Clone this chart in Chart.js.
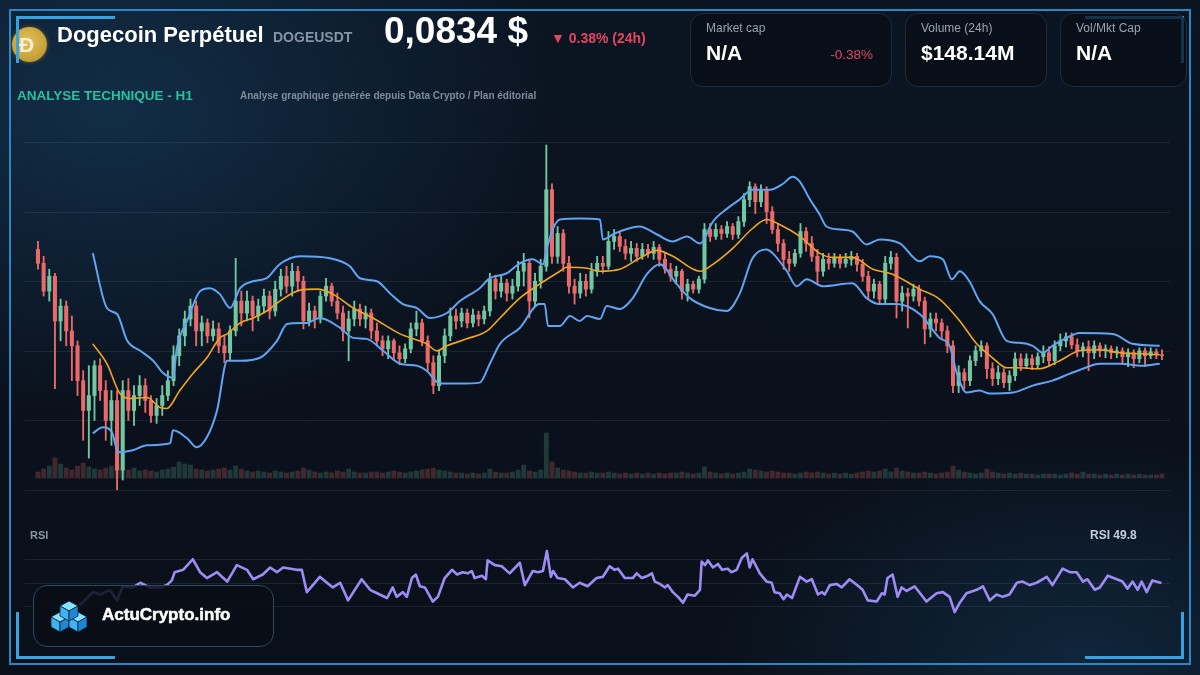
<!DOCTYPE html>
<html><head><meta charset="utf-8">
<script src="https://cdn.jsdelivr.net/npm/chart.js@4.4.1/dist/chart.umd.min.js"></script>
<style>
html,body{margin:0;padding:0;width:1200px;height:675px;overflow:hidden;background:#0b1522;font-family:Arial,"Liberation Sans",Helvetica,sans-serif;}
#stage{position:relative;width:1200px;height:675px;overflow:hidden;
background:
 radial-gradient(ellipse 620px 420px at 110px 110px, rgba(24,66,102,0.55), rgba(24,66,102,0) 72%),
 radial-gradient(ellipse 520px 300px at 1080px 660px, rgba(22,64,100,0.45), rgba(22,64,100,0) 72%),
 linear-gradient(180deg,#0b1522 0%,#0a111c 60%,#0a1019 100%);}
.abs{position:absolute;white-space:nowrap;line-height:1;}
.frame{position:absolute;left:9px;top:9px;width:1178px;height:652px;border:2px solid #2a86c4;}
.br{position:absolute;background:#36a2e2;}
.box{position:absolute;border:1px solid #1f2937;border-radius:13px;background:rgba(9,13,21,0.75);}
.lbl{color:#9aa3b2;font-size:12px;}
.val{color:#ffffff;font-size:21px;font-weight:bold;}
canvas{position:absolute;left:0;}
#logo{position:absolute;left:33px;top:585px;width:239px;height:60px;border:1.5px solid #2b4a5f;border-radius:14px;background:rgba(8,13,21,0.84);}
</style></head><body>
<div id="stage">
 <canvas id="price" width="1200" height="370" style="top:130px"></canvas>
 <canvas id="rsi" width="1200" height="170" style="top:500px"></canvas>

 <div class="frame"></div>

 <div style="position:absolute;left:12px;top:27px;width:35px;height:35px;border-radius:50%;background:radial-gradient(circle at 45% 40%,#e2c25a 0%,#c9a23c 60%,#a98426 100%);box-shadow:0 0 4px rgba(200,160,60,0.5);"></div>
 <div class="abs" style="left:19px;top:34px;font-size:21px;font-weight:bold;color:#f6efd6;">Ð</div>

 <div class="br" style="left:16px;top:16px;width:99px;height:3px"></div>
 <div class="br" style="left:16px;top:16px;width:3px;height:47px"></div>
 <div class="br" style="left:1085px;top:16px;width:99px;height:3px"></div>
 <div class="br" style="left:1181px;top:16px;width:3px;height:47px"></div>
 <div class="br" style="left:16px;top:656px;width:99px;height:3px"></div>
 <div class="br" style="left:16px;top:612px;width:3px;height:47px"></div>
 <div class="br" style="left:1085px;top:656px;width:99px;height:3px"></div>
 <div class="br" style="left:1181px;top:612px;width:3px;height:47px"></div>

 <div class="abs" style="left:57px;top:23.5px;font-size:22px;font-weight:bold;color:#ffffff;">Dogecoin Perpétuel</div>
 <div class="abs" style="left:273px;top:30px;font-size:14px;font-weight:bold;color:#8793a6;">DOGEUSDT</div>
 <div class="abs" style="left:384px;top:12px;font-size:37px;font-weight:bold;color:#ffffff;">0,0834 $</div>
 <div class="abs" style="left:551px;top:30.5px;font-size:14px;font-weight:bold;color:#e2465e;">▼ 0.38% (24h)</div>

 <div class="abs" style="left:17px;top:88.5px;font-size:13.5px;font-weight:bold;color:#22c3a1;">ANALYSE TECHNIQUE - H1</div>
 <div class="abs" style="left:240px;top:90.5px;font-size:10px;font-weight:bold;color:#7f8a9c;">Analyse graphique générée depuis Data Crypto / Plan éditorial</div>

 <div class="box" style="left:690px;top:13px;width:200px;height:72px"></div>
 <div class="box" style="left:905px;top:13px;width:140px;height:72px"></div>
 <div class="box" style="left:1060px;top:13px;width:125px;height:72px"></div>
 <div class="abs lbl" style="left:706px;top:22px;">Market cap</div>
 <div class="abs val" style="left:706px;top:42px;">N/A</div>
 <div class="abs" style="left:800px;width:73px;text-align:right;top:47.5px;font-size:13.5px;color:#e2465e;">-0.38%</div>
 <div class="abs lbl" style="left:921px;top:22px;">Volume (24h)</div>
 <div class="abs val" style="left:921px;top:42px;">$148.14M</div>
 <div class="abs lbl" style="left:1076px;top:22px;">Vol/Mkt Cap</div>
 <div class="abs val" style="left:1076px;top:42px;">N/A</div>

 <div class="abs" style="left:30px;top:529.5px;font-size:11px;font-weight:bold;color:#8a94a6;">RSI</div>
 <div class="abs" style="left:1090px;top:529px;font-size:12px;font-weight:bold;color:#c5cddc;">RSI 49.8</div>

 <div id="logo"></div>
 <svg style="position:absolute;left:51px;top:601px" width="36" height="32" viewBox="0 0 36 32">
  <g stroke="#0a2238" stroke-width="0.8" stroke-linejoin="round">
   <polygon points="9,11 18,16 9,21 0,16" fill="#86e3ff"/>
   <polygon points="0,16 9,21 9,31 0,26" fill="#3fb3ef"/>
   <polygon points="9,21 18,16 18,26 9,31" fill="#1f86d6"/>
   <polygon points="27,11 36,16 27,21 18,16" fill="#86e3ff"/>
   <polygon points="18,16 27,21 27,31 18,26" fill="#3fb3ef"/>
   <polygon points="27,21 36,16 36,26 27,31" fill="#1f86d6"/>
   <polygon points="18,0 27,5 18,10 9,5" fill="#86e3ff"/>
   <polygon points="9,5 18,10 18,20 9,15" fill="#3fb3ef"/>
   <polygon points="18,10 27,5 27,15 18,20" fill="#1f86d6"/>
  </g>
 </svg>
 <div class="abs" style="left:102px;top:605.5px;font-size:17px;font-weight:bold;color:#ffffff;-webkit-text-stroke:0.5px #ffffff;">ActuCrypto.info</div>
</div>

<script>
// ---- Candles (hourly, DOGEUSDT) ----
const openP = [0.08447,0.08433,0.08405,0.08420,0.08375,0.08390,0.08365,0.08350,0.08315,0.08285,
0.08300,0.08330,0.08305,0.08275,0.08295,0.08225,0.08305,0.08285,0.08300,0.08310,
0.08295,0.08280,0.08290,0.08300,0.08315,0.08340,0.08360,0.08377,0.08390,0.08365,
0.08373,0.08360,0.08367,0.08350,0.08343,0.08365,0.08395,0.08383,0.08395,0.08380,
0.08390,0.08400,0.08385,0.08407,0.08420,0.08410,0.08425,0.08415,0.08375,0.08385,
0.08377,0.08400,0.08410,0.08395,0.08383,0.08365,0.08377,0.08387,0.08377,0.08383,
0.08365,0.08355,0.08347,0.08355,0.08343,0.08337,0.08347,0.08367,0.08373,0.08355,
0.08333,0.08310,0.08340,0.08360,0.08380,0.08375,0.08383,0.08373,0.08381,0.08377,
0.08385,0.08417,0.08405,0.08413,0.08403,0.08410,0.08425,0.08433,0.08395,0.08415,
0.08430,0.08507,0.08440,0.08463,0.08433,0.08410,0.08403,0.08415,0.08407,0.08425,
0.08433,0.08430,0.08455,0.08460,0.08450,0.08443,0.08448,0.08440,0.08447,0.08443,
0.08449,0.08437,0.08427,0.08420,0.08425,0.08405,0.08412,0.08407,0.08417,0.08467,
0.08460,0.08467,0.08463,0.08470,0.08462,0.08475,0.08497,0.08510,0.08495,0.08507,
0.08485,0.08467,0.08453,0.08437,0.08433,0.08443,0.08465,0.08453,0.08440,0.08425,
0.08437,0.08433,0.08439,0.08433,0.08437,0.08440,0.08432,0.08420,0.08405,0.08412,
0.08397,0.08433,0.08439,0.08395,0.08403,0.08400,0.08407,0.08395,0.08367,0.08377,
0.08373,0.08365,0.08350,0.08310,0.08323,0.08315,0.08335,0.08345,0.08350,0.08327,
0.08317,0.08323,0.08313,0.08320,0.08337,0.08330,0.08337,0.08331,0.08339,0.08343,
0.08335,0.08350,0.08355,0.08359,0.08351,0.08345,0.08349,0.08343,0.08350,0.08345,
0.08347,0.08343,0.08345,0.08339,0.08343,0.08337,0.08345,0.08340,0.08344,0.08341];
const highP = [0.08455,0.08440,0.08427,0.08423,0.08397,0.08395,0.08380,0.08355,0.08325,0.08330,
0.08335,0.08337,0.08315,0.08305,0.08305,0.08315,0.08317,0.08310,0.08320,0.08317,
0.08300,0.08297,0.08310,0.08325,0.08350,0.08367,0.08385,0.08397,0.08395,0.08380,
0.08377,0.08375,0.08373,0.08360,0.08370,0.08438,0.08405,0.08405,0.08400,0.08397,
0.08407,0.08405,0.08415,0.08427,0.08430,0.08433,0.08430,0.08420,0.08393,0.08390,
0.08405,0.08418,0.08413,0.08403,0.08390,0.08385,0.08395,0.08392,0.08390,0.08387,
0.08373,0.08360,0.08360,0.08357,0.08350,0.08352,0.08373,0.08385,0.08377,0.08360,
0.08340,0.08345,0.08367,0.08388,0.08387,0.08388,0.08387,0.08387,0.08385,0.08390,
0.08423,0.08421,0.08420,0.08417,0.08417,0.08435,0.08443,0.08437,0.08423,0.08437,
0.08552,0.08513,0.08470,0.08467,0.08440,0.08417,0.08423,0.08422,0.08433,0.08440,
0.08440,0.08465,0.08467,0.08465,0.08457,0.08455,0.08453,0.08453,0.08452,0.08455,
0.08452,0.08443,0.08433,0.08430,0.08427,0.08417,0.08415,0.08420,0.08473,0.08473,
0.08473,0.08471,0.08475,0.08473,0.08480,0.08503,0.08515,0.08513,0.08512,0.08510,
0.08490,0.08473,0.08457,0.08445,0.08447,0.08473,0.08469,0.08460,0.08447,0.08443,
0.08443,0.08443,0.08442,0.08443,0.08445,0.08443,0.08437,0.08425,0.08417,0.08415,
0.08440,0.08445,0.08443,0.08410,0.08408,0.08412,0.08411,0.08399,0.08383,0.08383,
0.08377,0.08370,0.08355,0.08330,0.08327,0.08340,0.08350,0.08355,0.08353,0.08333,
0.08330,0.08327,0.08325,0.08343,0.08342,0.08342,0.08341,0.08343,0.08350,0.08349,
0.08355,0.08362,0.08363,0.08363,0.08357,0.08353,0.08355,0.08355,0.08353,0.08351,
0.08350,0.08349,0.08348,0.08347,0.08346,0.08348,0.08348,0.08348,0.08347,0.08346];
const lowP = [0.08427,0.08400,0.08395,0.08307,0.08355,0.08350,0.08315,0.08300,0.08255,0.08237,
0.08275,0.08295,0.08255,0.08250,0.08205,0.08215,0.08275,0.08270,0.08290,0.08283,
0.08273,0.08272,0.08280,0.08295,0.08310,0.08330,0.08350,0.08370,0.08350,0.08350,
0.08353,0.08355,0.08343,0.08333,0.08335,0.08360,0.08370,0.08375,0.08365,0.08375,
0.08383,0.08377,0.08380,0.08400,0.08403,0.08400,0.08405,0.08367,0.08370,0.08368,
0.08373,0.08395,0.08390,0.08377,0.08355,0.08335,0.08370,0.08370,0.08368,0.08357,
0.08350,0.08340,0.08337,0.08335,0.08331,0.08333,0.08343,0.08360,0.08350,0.08325,
0.08302,0.08305,0.08333,0.08355,0.08367,0.08369,0.08368,0.08369,0.08370,0.08372,
0.08380,0.08397,0.08399,0.08395,0.08397,0.08405,0.08410,0.08378,0.08390,0.08408,
0.08425,0.08433,0.08433,0.08425,0.08403,0.08392,0.08398,0.08400,0.08403,0.08420,
0.08423,0.08427,0.08447,0.08445,0.08437,0.08435,0.08435,0.08437,0.08439,0.08437,
0.08430,0.08423,0.08415,0.08413,0.08397,0.08395,0.08403,0.08403,0.08413,0.08455,
0.08457,0.08457,0.08459,0.08457,0.08458,0.08470,0.08490,0.08483,0.08490,0.08473,
0.08463,0.08445,0.08427,0.08425,0.08430,0.08439,0.08445,0.08435,0.08412,0.08420,
0.08427,0.08429,0.08428,0.08429,0.08431,0.08425,0.08415,0.08397,0.08398,0.08392,
0.08393,0.08427,0.08378,0.08385,0.08368,0.08395,0.08390,0.08352,0.08359,0.08365,
0.08357,0.08343,0.08303,0.08303,0.08307,0.08310,0.08330,0.08339,0.08317,0.08310,
0.08311,0.08308,0.08305,0.08315,0.08325,0.08327,0.08326,0.08328,0.08333,0.08330,
0.08331,0.08345,0.08349,0.08347,0.08339,0.08339,0.08325,0.08337,0.08339,0.08338,
0.08337,0.08338,0.08333,0.08329,0.08328,0.08333,0.08329,0.08337,0.08337,0.08336];
const closeP = [0.08433,0.08405,0.08420,0.08375,0.08390,0.08365,0.08350,0.08315,0.08285,0.08300,
0.08330,0.08305,0.08275,0.08295,0.08225,0.08305,0.08285,0.08300,0.08310,0.08295,
0.08280,0.08290,0.08300,0.08315,0.08340,0.08360,0.08377,0.08390,0.08365,0.08373,
0.08360,0.08367,0.08350,0.08343,0.08365,0.08395,0.08383,0.08395,0.08380,0.08390,
0.08400,0.08385,0.08407,0.08420,0.08410,0.08425,0.08415,0.08375,0.08385,0.08377,
0.08400,0.08410,0.08395,0.08383,0.08365,0.08377,0.08387,0.08377,0.08383,0.08365,
0.08355,0.08347,0.08355,0.08343,0.08337,0.08347,0.08367,0.08373,0.08355,0.08333,
0.08310,0.08340,0.08360,0.08380,0.08375,0.08383,0.08373,0.08381,0.08377,0.08385,
0.08417,0.08405,0.08413,0.08403,0.08410,0.08425,0.08433,0.08395,0.08415,0.08430,
0.08507,0.08440,0.08463,0.08433,0.08410,0.08403,0.08415,0.08407,0.08425,0.08433,
0.08430,0.08455,0.08460,0.08450,0.08443,0.08448,0.08440,0.08447,0.08443,0.08449,
0.08437,0.08427,0.08420,0.08425,0.08405,0.08412,0.08407,0.08417,0.08467,0.08460,
0.08467,0.08463,0.08470,0.08462,0.08475,0.08497,0.08510,0.08495,0.08507,0.08485,
0.08467,0.08453,0.08437,0.08433,0.08443,0.08465,0.08453,0.08440,0.08425,0.08437,
0.08433,0.08439,0.08433,0.08437,0.08440,0.08432,0.08420,0.08405,0.08412,0.08397,
0.08433,0.08439,0.08395,0.08403,0.08400,0.08407,0.08395,0.08367,0.08377,0.08373,
0.08365,0.08350,0.08310,0.08323,0.08315,0.08335,0.08345,0.08350,0.08327,0.08317,
0.08323,0.08313,0.08320,0.08337,0.08330,0.08337,0.08331,0.08339,0.08343,0.08335,
0.08350,0.08355,0.08359,0.08351,0.08345,0.08349,0.08343,0.08350,0.08345,0.08347,
0.08343,0.08345,0.08339,0.08343,0.08337,0.08345,0.08340,0.08344,0.08341,0.08340];
// hourly volume, millions DOGE
const volumeM = [6,9,12,20,14,10,8,12,15,11, 9,8,10,12,14,9,8,10,7,8,
7,6,8,9,11,16,14,13,9,8, 7,8,9,10,8,12,9,7,6,7,
6,5,7,6,5,6,7,10,8,6, 5,6,5,7,6,9,6,5,5,6,
6,5,6,7,6,5,6,7,8,9, 10,8,7,6,5,5,4,5,4,5,
9,6,5,5,6,8,13,7,6,8, 45,16,10,8,7,6,5,5,6,5,
5,6,5,4,5,4,5,4,5,4, 5,4,5,5,6,5,4,5,11,6,
5,4,5,4,5,6,9,8,7,6, 7,6,5,5,4,5,6,5,6,5,
4,5,4,5,4,5,6,7,6,7, 9,6,10,7,6,5,5,6,5,4,
5,6,12,8,6,5,4,5,9,6, 5,4,5,4,5,4,4,3,4,4,
4,3,4,5,4,6,4,4,3,4, 3,4,3,4,3,4,3,3,3,4];
// Bollinger bands and moving average: [candle index, price]
const upperBand = [[9.7,0.08443],[12.2,0.08388],[14.0,0.08382],[15.8,0.08355],[18.1,0.08345],[20.4,0.08335],[22.1,0.08323],[23.9,0.08318],[24.6,0.08348],[26.4,0.08375],[28.7,0.08405],[30.4,0.08408],[32.2,0.08402],[34.0,0.08388],[35.8,0.08408],[38.1,0.08415],[40.5,0.08418],[42.8,0.08432],[46.4,0.08440],[51.7,0.08438],[55.2,0.08430],[57.0,0.08418],[60.0,0.08415],[62.3,0.08403],[64.6,0.08392],[67.1,0.08388],[69.4,0.08378],[72.4,0.08383],[74.7,0.08395],[78.2,0.08408],[80.0,0.08418],[83.0,0.08423],[85.3,0.08433],[87.6,0.08437],[89.4,0.08432],[90.1,0.08448],[91.2,0.08468],[92.4,0.08477],[95.9,0.08478],[99.5,0.08477],[100.0,0.08457],[101.8,0.08462],[103.0,0.08465],[106.5,0.08470],[109.6,0.08462],[112.4,0.08455],[114.9,0.08460],[117.2,0.08453],[119.5,0.08475],[122.0,0.08488],[124.2,0.08497],[126.5,0.08507],[129.6,0.08507],[131.9,0.08513],[133.6,0.08520],[134.9,0.08515],[136.6,0.08498],[138.4,0.08482],[139.6,0.08470],[142.0,0.08467],[144.2,0.08465],[146.7,0.08452],[149.0,0.08457],[152.6,0.08453],[156.1,0.08435],[157.9,0.08440],[160.2,0.08437],[161.8,0.08417],[163.2,0.08425],[164.9,0.08415],[166.7,0.08395],[169.0,0.08382],[171.5,0.08355],[173.8,0.08353],[176.1,0.08350],[177.9,0.08343],[179.6,0.08350],[182.1,0.08358],[184.4,0.08363],[190.3,0.08362],[193.8,0.08352],[198.6,0.08350]];
const lowerBand = [[9.7,0.08262],[11.5,0.08268],[13.1,0.08263],[14.2,0.08243],[16.8,0.08245],[19.3,0.08250],[23.4,0.08252],[23.9,0.08265],[26.4,0.08257],[28.1,0.08248],[29.9,0.08258],[31.7,0.08285],[33.5,0.08335],[35.8,0.08335],[39.3,0.08338],[42.3,0.08355],[44.1,0.08372],[47.6,0.08373],[49.9,0.08378],[53.5,0.08368],[55.8,0.08358],[58.2,0.08357],[61.1,0.08345],[64.1,0.08332],[67.1,0.08330],[68.8,0.08325],[71.2,0.08312],[74.7,0.08312],[78.2,0.08313],[80.0,0.08332],[81.8,0.08352],[85.3,0.08368],[88.8,0.08392],[89.7,0.08392],[90.3,0.08370],[92.4,0.08370],[94.2,0.08380],[95.9,0.08375],[97.2,0.08380],[99.5,0.08377],[100.7,0.08390],[103.0,0.08387],[105.3,0.08398],[107.8,0.08422],[110.1,0.08432],[113.1,0.08412],[115.4,0.08398],[118.9,0.08388],[121.9,0.08385],[124.2,0.08402],[126.5,0.08438],[129.0,0.08447],[130.1,0.08443],[132.6,0.08425],[134.3,0.08410],[136.1,0.08417],[138.9,0.08410],[144.2,0.08413],[146.7,0.08398],[149.0,0.08392],[152.0,0.08392],[156.1,0.08382],[159.6,0.08358],[161.4,0.08350],[162.7,0.08322],[164.4,0.08303],[166.7,0.08305],[168.5,0.08302],[172.6,0.08303],[176.1,0.08310],[179.6,0.08315],[182.7,0.08322],[185.0,0.08327],[188.0,0.08332],[191.5,0.08332],[195.6,0.08330],[198.6,0.08332]];
const maLine = [[9.7,0.08352],[12.2,0.08332],[14.5,0.08302],[16.3,0.08297],[19.3,0.08298],[21.6,0.08288],[22.8,0.08287],[25.1,0.08305],[27.4,0.08322],[29.9,0.08338],[32.2,0.08358],[33.5,0.08362],[35.8,0.08373],[38.1,0.08378],[40.5,0.08385],[42.8,0.08395],[46.4,0.08406],[49.4,0.08407],[52.2,0.08402],[55.8,0.08388],[59.3,0.08378],[64.1,0.08362],[68.8,0.08352],[70.6,0.08345],[72.4,0.08350],[75.9,0.08357],[79.5,0.08365],[81.8,0.08378],[85.3,0.08398],[88.8,0.08412],[92.4,0.08425],[93.6,0.08429],[97.2,0.08428],[99.5,0.08425],[103.0,0.08427],[106.5,0.08438],[109.6,0.08446],[112.4,0.08440],[117.2,0.08425],[119.5,0.08432],[123.0,0.08448],[126.5,0.08468],[129.0,0.08477],[131.3,0.08472],[134.9,0.08460],[138.4,0.08443],[140.7,0.08439],[144.2,0.08439],[147.8,0.08427],[151.3,0.08422],[156.1,0.08407],[159.6,0.08397],[163.2,0.08375],[166.2,0.08352],[169.0,0.08338],[171.5,0.08328],[173.3,0.08328],[177.3,0.08327],[180.9,0.08335],[184.4,0.08345],[188.0,0.08346],[191.5,0.08343],[195.6,0.08342],[198.6,0.08341]];
// RSI: [candle index, value]
const rsiPoints = [[7.4,31],[8.7,37],[9.7,42],[11.0,40],[12.7,44],[14.0,35],[15.0,47],[16.8,46],[18.1,50],[19.8,46],[21.6,46],[22.8,48],[23.7,52],[24.2,59],[25.7,61],[27.4,70],[28.7,59],[29.9,54],[31.7,59],[33.5,51],[35.2,65],[37.0,61],[38.1,53],[39.8,57],[41.1,63],[42.3,59],[43.4,63],[45.8,61],[46.7,61],[47.6,42],[49.9,55],[52.2,46],[53.5,50],[54.9,35],[57.3,53],[58.8,44],[60.5,40],[61.8,37],[62.8,46],[63.5,38],[64.6,42],[65.3,38],[66.2,54],[66.9,57],[67.6,47],[68.5,46],[69.9,34],[70.8,38],[72.0,54],[73.3,61],[74.2,57],[75.2,59],[76.1,58],[76.8,60],[77.3,54],[78.6,56],[79.3,53],[79.6,69],[80.9,65],[82.1,64],[83.5,58],[85.3,67],[86.2,48],[87.6,60],[88.5,59],[89.4,60],[90.1,77],[90.8,55],[91.2,60],[92.0,54],[93.3,53],[94.7,46],[95.9,50],[97.3,47],[98.9,54],[100.0,55],[101.2,64],[102.1,61],[102.7,62],[103.9,54],[105.3,54],[106.0,58],[106.9,54],[108.0,56],[108.7,58],[109.2,51],[110.1,49],[111.0,46],[111.5,48],[112.4,42],[113.3,38],[114.2,33],[115.0,40],[116.3,39],[117.2,44],[117.5,68],[118.1,65],[118.6,69],[119.5,63],[120.4,66],[121.1,61],[122.1,62],[122.8,59],[123.7,61],[124.6,71],[125.5,75],[126.0,63],[126.5,70],[127.8,58],[129.0,51],[129.9,50],[130.4,42],[131.3,41],[132.0,36],[132.6,40],[133.5,37],[134.9,55],[136.1,51],[137.0,53],[138.1,40],[138.8,42],[139.3,40],[140.2,48],[141.4,49],[142.3,46],[143.7,53],[145.0,48],[146.0,44],[146.9,35],[148.5,34],[149.4,41],[149.9,40],[150.4,54],[151.3,57],[152.2,38],[152.9,46],[153.8,43],[155.2,47],[157.3,34],[159.1,41],[160.2,42],[161.4,38],[162.3,25],[163.2,33],[164.4,41],[166.2,44],[167.3,47],[168.5,35],[169.7,40],[170.8,38],[172.0,40],[173.3,50],[174.3,51],[175.6,48],[176.8,50],[178.6,55],[179.6,48],[181.4,62],[182.7,59],[183.9,59],[185.0,51],[185.8,53],[187.1,44],[188.0,46],[189.4,56],[191.0,53],[192.0,51],[192.9,45],[193.8,51],[194.7,44],[195.4,51],[196.3,42],[197.3,52],[198.9,49.8]];
// gridline levels
const priceGrid = [0.08205,0.08275,0.08345,0.08415,0.08485,0.08555];
const rsiGrid = [30,50,70];

const GREEN = '#72c7a3', RED = '#ea6a6a';
const candleColor = closeP.map((c,i)=> c >= openP[i] ? GREEN : RED);
const volColor = closeP.map((c,i)=> c >= openP[i] ? 'rgba(111,201,162,0.22)' : 'rgba(236,107,107,0.25)');

const hgrid = {
  id:'hgrid',
  beforeDatasetsDraw(chart, args, opts){
    const {ctx, chartArea:{left,right}} = chart;
    const sc = chart.scales[opts.axis];
    ctx.save(); ctx.strokeStyle = opts.color; ctx.lineWidth = 1;
    opts.values.forEach(v=>{
      const y = Math.round(sc.getPixelForValue(v)) + 0.5;
      ctx.beginPath(); ctx.moveTo(left,y); ctx.lineTo(right,y); ctx.stroke();
    });
    ctx.restore();
  }
};

const XMIN = -2.3, XMAX = 200.42;
const common = {
  responsive:false, animation:false, devicePixelRatio:1,
  plugins:{legend:{display:false}, tooltip:{enabled:false}},
};

new Chart(document.getElementById('price'), {
  type:'bar',
  data:{datasets:[
    {type:'line', label:'MA', data:maLine.map(([x,y])=>({x,y})), borderColor:'#f2a51f', borderWidth:1.6, pointRadius:0, cubicInterpolationMode:'monotone', order:1, yAxisID:'y'},
    {type:'line', label:'Upper', data:upperBand.map(([x,y])=>({x,y})), borderColor:'#62a4f2', borderWidth:2, pointRadius:0, cubicInterpolationMode:'monotone', order:2, yAxisID:'y'},
    {type:'line', label:'Lower', data:lowerBand.map(([x,y])=>({x,y})), borderColor:'#62a4f2', borderWidth:2, pointRadius:0, cubicInterpolationMode:'monotone', order:2, yAxisID:'y'},
    {label:'Body', data:openP.map((o,i)=>({x:i, y:[o, closeP[i]]})), backgroundColor:candleColor, barThickness:3.4, minBarLength:1, grouped:false, order:3, yAxisID:'y'},
    {label:'Wick', data:lowP.map((l,i)=>({x:i, y:[l, highP[i]]})), backgroundColor:candleColor, barThickness:1.2, grouped:false, order:4, yAxisID:'y'},
    {label:'Volume', data:volumeM.map((v,i)=>({x:i, y:v})), backgroundColor:volColor, barThickness:4.2, grouped:false, order:5, yAxisID:'vol'}
  ]},
  options:{...common,
    layout:{padding:{left:25, right:30, top:12, bottom:10}},
    scales:{
      x:{type:'linear', min:XMIN, max:XMAX, offset:false, display:false},
      y:{type:'linear', min:0.08205, max:0.08555, display:false},
      vol:{type:'linear', min:-12, max:336, display:false}
    },
    plugins:{...common.plugins, hgrid:{axis:'y', values:priceGrid, color:'rgba(255,255,255,0.075)'}}
  },
  plugins:[hgrid]
});

new Chart(document.getElementById('rsi'), {
  type:'line',
  data:{datasets:[
    {label:'RSI', data:rsiPoints.map(([x,y])=>({x,y})), borderColor:'#9d8cf3', borderWidth:2.6, pointRadius:0, tension:0, borderJoinStyle:'round'}
  ]},
  options:{...common,
    layout:{padding:{left:25, right:30, top:24, bottom:28.5}},
    scales:{
      x:{type:'linear', min:XMIN, max:XMAX, offset:false, display:false},
      y:{type:'linear', min:0, max:100, display:false}
    },
    plugins:{...common.plugins, hgrid:{axis:'y', values:rsiGrid, color:'rgba(255,255,255,0.075)'}}
  },
  plugins:[hgrid]
});
</script>
</body></html>
